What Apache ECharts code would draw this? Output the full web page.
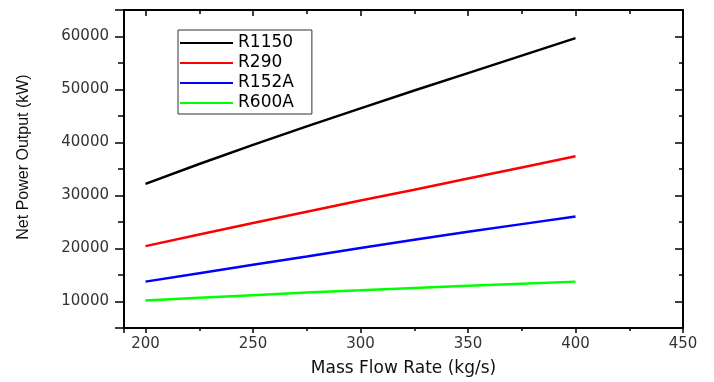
<!DOCTYPE html>
<html>
<head>
<meta charset="utf-8">
<script src="https://cdn.jsdelivr.net/npm/echarts@6/dist/echarts.min.js"></script>
<style>
  html, body { margin: 0; padding: 0; background: #fff; }
  #chart { width: 714px; height: 382px; }
</style>
</head>
<body>
<div id="chart"></div>
<script>
// mass flow rate (kg/s)
const flowRates = [200, 225, 250, 275, 300, 325, 350, 375, 400];
const seriesNames = ['R1150', 'R290', 'R152A', 'R600A'];
const seriesColors = ['#000000', '#ff0000', '#0000ff', '#00ff00'];
// net power output (kW)
const r1150 = [32200, 35950, 39550, 43050, 46450, 49800, 53100, 56400, 59700];
const r290  = [20450, 22650, 24800, 26950, 29050, 31100, 33200, 35300, 37400];
const r152a = [13750, 15350, 16950, 18500, 20100, 21650, 23150, 24600, 26050];
const r600a = [10200, 10700, 11200, 11700, 12100, 12550, 12950, 13350, 13750];
const seriesValues = [r1150, r290, r152a, r600a];

const chart = echarts.init(document.getElementById('chart'));

const font = 'DejaVu Sans';
const xMin = 190, xMax = 450;
const yMin = 5000, yMax = 65000;

function pairs(vals) {
  return flowRates.map((x, i) => [x, vals[i]]);
}

const option = {
  animation: false,
  grid: { left: 124, right: 31, top: 10, bottom: 53 },
  legend: {
    orient: 'vertical',
    left: 178,
    top: 30,
    padding: [3, 18, 1, 2],
    itemGap: 0,
    itemWidth: 53,
    itemHeight: 2,
    icon: 'rect',
    borderColor: '#333',
    borderWidth: 1,
    textStyle: { fontFamily: font, fontSize: 17, color: '#000', lineHeight: 20 },
    data: seriesNames
  },
  xAxis: [
    {
      type: 'value',
      min: xMin,
      max: xMax,
      name: 'Mass Flow Rate (kg/s)',
      nameLocation: 'middle',
      nameGap: 32,
      nameTextStyle: { fontFamily: font, fontSize: 17, color: '#111' },
      axisLine: { lineStyle: { color: '#000', width: 2 } },
      axisTick: { length: 5, lineStyle: { color: '#000', width: 1.5 } },
      minorTick: { show: true, splitNumber: 2, length: 3, lineStyle: { color: '#000', width: 1.5 } },
      axisLabel: {
        fontFamily: font, fontSize: 15, color: '#333', margin: 9,
        formatter: v => (v % 50 === 0 ? String(v) : '')
      },
      splitLine: { show: false }
    },
    {
      type: 'value',
      position: 'top',
      min: xMin,
      max: xMax,
      axisLine: { lineStyle: { color: '#000', width: 2 } },
      axisTick: { inside: true, length: 6, lineStyle: { color: '#000', width: 1.5 } },
      minorTick: { show: true, splitNumber: 2, length: 4, lineStyle: { color: '#000', width: 1.5 } },
      axisLabel: { show: false },
      splitLine: { show: false }
    }
  ],
  yAxis: [
    {
      type: 'value',
      min: yMin,
      max: yMax,
      name: 'Net Power Output (kW)',
      nameLocation: 'middle',
      nameGap: 92,
      nameTextStyle: { fontFamily: 'Liberation Sans', fontSize: 16, color: '#111', padding: [0, 0, 0, 24] },
      axisLine: { lineStyle: { color: '#000', width: 2 } },
      axisTick: { length: 9, lineStyle: { color: '#000', width: 1.5 } },
      minorTick: { show: true, splitNumber: 2, length: 6, lineStyle: { color: '#000', width: 1.5 } },
      axisLabel: {
        fontFamily: font, fontSize: 15, color: '#333', margin: 15,
        showMinLabel: false, showMaxLabel: false,
        formatter: v => (v % 10000 === 0 ? String(v) : '')
      },
      splitLine: { show: false }
    },
    {
      type: 'value',
      position: 'right',
      min: yMin,
      max: yMax,
      axisLine: { lineStyle: { color: '#000', width: 2 } },
      axisTick: { inside: true, length: 8, lineStyle: { color: '#000', width: 1.5 } },
      minorTick: { show: true, splitNumber: 2, length: 4, lineStyle: { color: '#000', width: 1.5 } },
      axisLabel: { show: false },
      splitLine: { show: false }
    }
  ],
  series: seriesNames.map((name, i) => ({
    name: name,
    type: 'line',
    xAxisIndex: 0,
    yAxisIndex: 0,
    showSymbol: false,
    symbol: 'none',
    color: seriesColors[i],
    lineStyle: { color: seriesColors[i], width: 2.5 },
    data: pairs(seriesValues[i])
  }))
};

chart.setOption(option);
</script>
</body>
</html>
